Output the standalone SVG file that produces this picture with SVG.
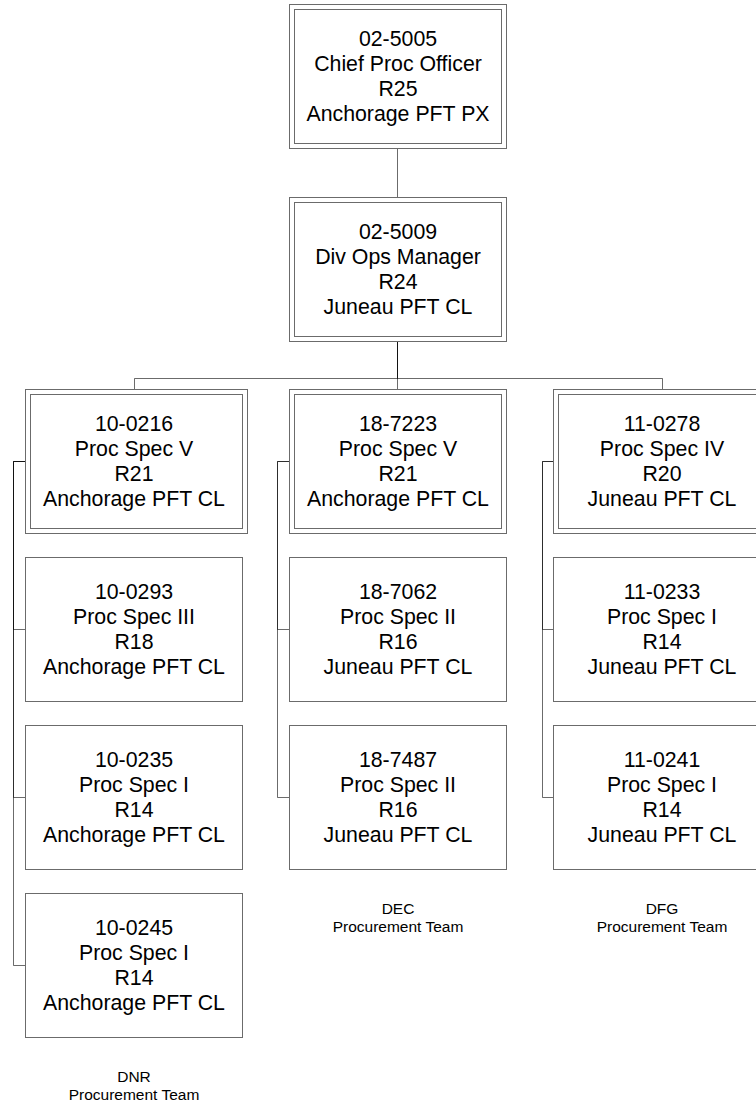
<svg xmlns="http://www.w3.org/2000/svg" width="756" height="1106" viewBox="0 0 756 1106">
<style>
.box{fill:#fff;stroke:#6b6b6b;stroke-width:1}
.t{font-family:"Liberation Sans",Arial,sans-serif;font-size:21.3px;fill:#000;text-anchor:middle}
.lbl{font-family:"Liberation Sans",Arial,sans-serif;font-size:15.5px;fill:#000;text-anchor:middle}
.conn path{fill:none;stroke:#000;stroke-opacity:0.58;stroke-width:1}
</style>
<rect width="756" height="1106" fill="#fff"/>
<g class="conn" id="connectors">
<path d="M397.5,148.5 V197.5"/>
<path d="M397.5,341.5 V378.5 H134.5 V389.5"/>
<path d="M397.5,341.5 V389.5"/>
<path d="M397.5,341.5 V378.5 H662.5 V389.5"/>
<path d="M25.5,461.5 H13.5 V629.5 H25.5"/>
<path d="M25.5,461.5 H13.5 V797.5 H25.5"/>
<path d="M25.5,461.5 H13.5 V965.5 H25.5"/>
<path d="M289.5,461.5 H277.5 V629.5 H289.5"/>
<path d="M289.5,461.5 H277.5 V797.5 H289.5"/>
<path d="M553.5,461.5 H542.5 V629.5 H553.5"/>
<path d="M553.5,461.5 H542.5 V797.5 H553.5"/>
</g>
<g id="n02-5005">
<rect class="box" x="289.5" y="4.5" width="217" height="144"/>
<rect class="box" x="294.5" y="9.5" width="207" height="134"/>
<text class="t" x="398"><tspan x="398" y="45.5">02-5005</tspan><tspan x="398" y="70.8">Chief Proc Officer</tspan><tspan x="398" y="96.1">R25</tspan><tspan x="398" y="121.4">Anchorage PFT PX</tspan></text>
</g>
<g id="n02-5009">
<rect class="box" x="289.5" y="197.5" width="217" height="144"/>
<rect class="box" x="294.5" y="202.5" width="207" height="134"/>
<text class="t"><tspan x="398" y="238.5">02-5009</tspan><tspan x="398" y="263.8">Div Ops Manager</tspan><tspan x="398" y="289.1">R24</tspan><tspan x="398" y="314.4">Juneau PFT CL</tspan></text>
</g>
<g id="n10-0216">
<rect class="box" x="25.5" y="389.5" width="222" height="144"/>
<rect class="box" x="30.5" y="394.5" width="212" height="134"/>
<text class="t"><tspan x="134" y="430.5">10-0216</tspan><tspan x="134" y="455.8">Proc Spec V</tspan><tspan x="134" y="481.1">R21</tspan><tspan x="134" y="506.4">Anchorage PFT CL</tspan></text>
</g>
<g id="n10-0293">
<rect class="box" x="25.5" y="557.5" width="217" height="144"/>
<text class="t"><tspan x="134" y="598.5">10-0293</tspan><tspan x="134" y="623.8">Proc Spec III</tspan><tspan x="134" y="649.1">R18</tspan><tspan x="134" y="674.4">Anchorage PFT CL</tspan></text>
</g>
<g id="n10-0235">
<rect class="box" x="25.5" y="725.5" width="217" height="144"/>
<text class="t"><tspan x="134" y="766.5">10-0235</tspan><tspan x="134" y="791.8">Proc Spec I</tspan><tspan x="134" y="817.1">R14</tspan><tspan x="134" y="842.4">Anchorage PFT CL</tspan></text>
</g>
<g id="n10-0245">
<rect class="box" x="25.5" y="893.5" width="217" height="144"/>
<text class="t"><tspan x="134" y="934.5">10-0245</tspan><tspan x="134" y="959.8">Proc Spec I</tspan><tspan x="134" y="985.1">R14</tspan><tspan x="134" y="1010.4">Anchorage PFT CL</tspan></text>
</g>
<g id="n18-7223">
<rect class="box" x="289.5" y="389.5" width="217" height="144"/>
<rect class="box" x="294.5" y="394.5" width="207" height="134"/>
<text class="t"><tspan x="398" y="430.5">18-7223</tspan><tspan x="398" y="455.8">Proc Spec V</tspan><tspan x="398" y="481.1">R21</tspan><tspan x="398" y="506.4">Anchorage PFT CL</tspan></text>
</g>
<g id="n18-7062">
<rect class="box" x="289.5" y="557.5" width="217" height="144"/>
<text class="t"><tspan x="398" y="598.5">18-7062</tspan><tspan x="398" y="623.8">Proc Spec II</tspan><tspan x="398" y="649.1">R16</tspan><tspan x="398" y="674.4">Juneau PFT CL</tspan></text>
</g>
<g id="n18-7487">
<rect class="box" x="289.5" y="725.5" width="217" height="144"/>
<text class="t"><tspan x="398" y="766.5">18-7487</tspan><tspan x="398" y="791.8">Proc Spec II</tspan><tspan x="398" y="817.1">R16</tspan><tspan x="398" y="842.4">Juneau PFT CL</tspan></text>
</g>
<g id="n11-0278">
<rect class="box" x="553.5" y="389.5" width="217" height="144"/>
<rect class="box" x="558.5" y="394.5" width="207" height="134"/>
<text class="t"><tspan x="662" y="430.5">11-0278</tspan><tspan x="662" y="455.8">Proc Spec IV</tspan><tspan x="662" y="481.1">R20</tspan><tspan x="662" y="506.4">Juneau PFT CL</tspan></text>
</g>
<g id="n11-0233">
<rect class="box" x="553.5" y="557.5" width="217" height="144"/>
<text class="t"><tspan x="662" y="598.5">11-0233</tspan><tspan x="662" y="623.8">Proc Spec I</tspan><tspan x="662" y="649.1">R14</tspan><tspan x="662" y="674.4">Juneau PFT CL</tspan></text>
</g>
<g id="n11-0241">
<rect class="box" x="553.5" y="725.5" width="217" height="144"/>
<text class="t"><tspan x="662" y="766.5">11-0241</tspan><tspan x="662" y="791.8">Proc Spec I</tspan><tspan x="662" y="817.1">R14</tspan><tspan x="662" y="842.4">Juneau PFT CL</tspan></text>
</g>
<g id="labels">
<text class="lbl"><tspan x="134" y="1082">DNR</tspan><tspan x="134" y="1100">Procurement Team</tspan></text>
<text class="lbl"><tspan x="398" y="914">DEC</tspan><tspan x="398" y="932">Procurement Team</tspan></text>
<text class="lbl"><tspan x="662" y="914">DFG</tspan><tspan x="662" y="932">Procurement Team</tspan></text>
</g>
</svg>
